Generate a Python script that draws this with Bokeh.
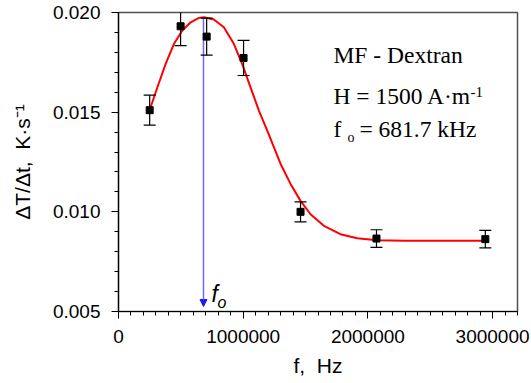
from bokeh.plotting import figure
from bokeh.embed import file_html
from bokeh.resources import INLINE
from bokeh.models import Label, Arrow, NormalHead, FixedTicker, NumeralTickFormatter

# ---- data ----
freq = [250000, 498000, 707000, 1003000, 1460000, 2069000, 2942000]
rate = [0.01510, 0.01931, 0.01879, 0.01772, 0.01000, 0.00866, 0.00863]
rate_err = [0.00075, 0.00097, 0.00093, 0.00088, 0.00050, 0.00044, 0.00044]

fit_f = [250000, 312000, 378000, 445000, 512000, 579000, 645000, 685000, 765000,
         845000, 925000, 993000, 1059000, 1126000, 1193000, 1300000, 1380000,
         1460000, 1540000, 1647000, 1780000, 1914000, 2074000, 2300000, 2600000, 2942000]
fit_rate = [0.01511, 0.01625, 0.01742, 0.01843, 0.01910, 0.01951, 0.01973, 0.01976, 0.01965,
            0.01926, 0.01843, 0.01740, 0.01624, 0.01508, 0.01407, 0.01240, 0.01140,
            0.01055, 0.00988, 0.00930, 0.00888, 0.00867, 0.00858, 0.00855, 0.00855, 0.00855]

f0 = 681700
f0_top = 0.01976
f0_bottom = 0.00525

x_ticks = [0, 1000000, 2000000, 3000000]
y_ticks = [0.005, 0.010, 0.015, 0.020]

upper = [r + e for r, e in zip(rate, rate_err)]
lower = [r - e for r, e in zip(rate, rate_err)]

p = figure(width=531, height=383, x_range=(0, 3200000), y_range=(0.005, 0.020),
           output_backend="svg", toolbar_location=None,
           min_border_left=118, min_border_right=14, min_border_top=12, min_border_bottom=72)
p.background_fill_color = "white"
p.border_fill_color = "white"
p.xgrid.visible = False
p.ygrid.visible = False
p.outline_line_color = "#505050"
p.outline_line_width = 1.5

p.xaxis.ticker = FixedTicker(ticks=x_ticks, minor_ticks=[i * 100000 for i in range(33)])
p.yaxis.ticker = FixedTicker(ticks=y_ticks, minor_ticks=[0.005 + 0.001 * i for i in range(16)])
p.xaxis.formatter = NumeralTickFormatter(format="0")
p.yaxis.formatter = NumeralTickFormatter(format="0.000")

for ax in (p.xaxis, p.yaxis):
    ax.axis_line_color = "black"
    ax.axis_line_width = 1.2
    ax.major_tick_line_color = "black"
    ax.minor_tick_line_color = "black"
    ax.major_tick_in = 0
    ax.major_tick_out = 7
    ax.minor_tick_in = 0
    ax.minor_tick_out = 4
    ax.major_label_text_font = "Liberation Sans"
    ax.major_label_text_font_size = "19px"
    ax.major_label_text_color = "black"
    ax.axis_label_text_font = "Liberation Sans"
    ax.axis_label_text_font_size = "21px"
    ax.axis_label_text_font_style = "normal"
    ax.axis_label_text_color = "black"

p.xaxis.major_label_standoff = 11
p.yaxis.major_label_standoff = 11
p.xaxis.axis_label = "f,\u00a0 Hz"
p.yaxis.axis_label = "\u0394T/\u0394t,\u00a0 K\u00b7s\u207b\u00b9"
p.xaxis.axis_label_standoff = 8
p.yaxis.axis_label_standoff = 16

# blue arrow marking f0
arrow = Arrow(end=NormalHead(size=7, fill_color="#1a1aff", line_color="#1a1aff"),
              x_start=f0, y_start=f0_top, x_end=f0, y_end=f0_bottom,
              line_color="#6a6aff", line_width=1.5, level="underlay")
p.add_layout(arrow)

# fit curve
p.line(fit_f, fit_rate, line_color="#ff0000", line_width=2)

# error bars
p.segment(x0=freq, y0=lower, x1=freq, y1=upper, line_color="black", line_width=1.2)
p.scatter(freq, upper, marker="dash", size=12, line_color="black", line_width=1.2)
p.scatter(freq, lower, marker="dash", size=12, line_color="black", line_width=1.2)

# data points
p.scatter(freq, rate, marker="square", size=7, fill_color="black", line_color="black")

def px2x(px):
    return (px - 118) / 124.7 * 1e6

def py2y(py):
    return 0.020 - (py - 12) / 19933.0

serif = "Liberation Serif"
p.add_layout(Label(x=px2x(333), y=py2y(54.5), text="MF - Dextran", text_font=serif,
                   text_font_size="23.5px", text_baseline="alphabetic", text_color="black"))
p.add_layout(Label(x=px2x(333), y=py2y(95), text="H = 1500 A\u00b7m", text_font=serif,
                   text_font_size="23.5px", text_baseline="alphabetic", text_color="black"))
p.add_layout(Label(x=px2x(470), y=py2y(91.5), text="-1", text_font=serif,
                   text_font_size="15px", text_baseline="alphabetic", text_color="black"))
p.add_layout(Label(x=px2x(333), y=py2y(128.5), text="f", text_font=serif,
                   text_font_size="23.5px", text_baseline="alphabetic", text_color="black"))
p.add_layout(Label(x=px2x(347), y=py2y(137), text="o", text_font=serif,
                   text_font_size="14px", text_baseline="alphabetic", text_color="black"))
p.add_layout(Label(x=px2x(359), y=py2y(128.5), text="= 681.7 kHz", text_font=serif,
                   text_font_size="23.5px", text_baseline="alphabetic", text_color="black"))

# f_o label next to arrow
p.add_layout(Label(x=px2x(211), y=py2y(293), text="f", text_font="Liberation Sans",
                   text_font_size="23px", text_font_style="italic", text_baseline="alphabetic",
                   text_color="black"))
p.add_layout(Label(x=px2x(217), y=py2y(302), text="o", text_font="Liberation Sans",
                   text_font_size="16px", text_font_style="italic", text_baseline="alphabetic",
                   text_color="black"))

open("out.html", "w").write(file_html(p, INLINE))
